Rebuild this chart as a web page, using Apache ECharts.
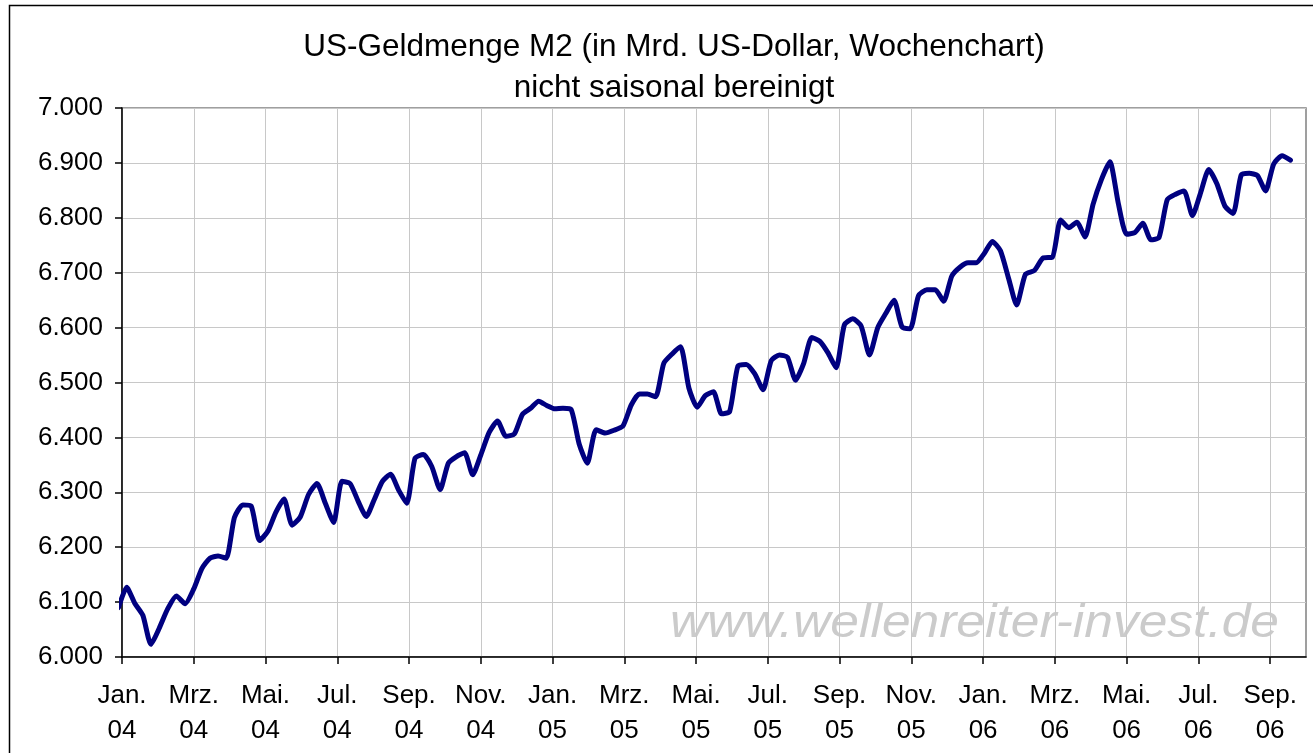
<!DOCTYPE html>
<html>
<head>
<meta charset="utf-8">
<script src="https://cdn.jsdelivr.net/npm/echarts@6.0.0/dist/echarts.min.js"></script>
<style>html,body{margin:0;padding:0;background:#fff}</style>
</head>
<body>
<div id="main" style="width:1313px;height:753px;"></div>
<script type="text/javascript">
    // erste Woche 29.12.2003, danach wöchentlich
    var startDate = [2003, 11, 29];
    var m2Values = [
        6090, 6127, 6098, 6076, 6023, 6052, 6088, 6111, 6097, 6124,
        6161, 6180, 6184, 6180, 6254, 6277, 6275, 6212, 6229, 6264,
        6288, 6240, 6255, 6296, 6316, 6280, 6245, 6320, 6316, 6284,
        6256, 6287, 6320, 6333, 6304, 6280, 6362, 6369, 6347, 6305,
        6353, 6365, 6372, 6332, 6368, 6409, 6430, 6402, 6406, 6442,
        6453, 6466, 6458, 6452, 6453, 6451, 6388, 6353, 6414, 6408,
        6413, 6421, 6459, 6479, 6479, 6474, 6535, 6552, 6565, 6490,
        6455, 6476, 6483, 6443, 6447, 6530, 6533, 6516, 6487, 6540,
        6550, 6546, 6504, 6535, 6582, 6575, 6554, 6527, 6605, 6616,
        6603, 6550, 6600, 6626, 6650, 6601, 6598, 6658, 6669, 6669,
        6648, 6694, 6710, 6718, 6718, 6735, 6757, 6740, 6690, 6641,
        6697, 6704, 6727, 6728, 6796, 6782, 6792, 6765, 6825, 6870,
        6902, 6827, 6770, 6773, 6790, 6760, 6764, 6833, 6843, 6849,
        6804, 6846, 6888, 6862, 6821, 6808, 6878, 6881, 6877, 6849,
        6898, 6913, 6905
    ];
    var xTickLabels = ['Jan.\n04', 'Mrz.\n04', 'Mai.\n04', 'Jul.\n04', 'Sep.\n04', 'Nov.\n04',
        'Jan.\n05', 'Mrz.\n05', 'Mai.\n05', 'Jul.\n05', 'Sep.\n05', 'Nov.\n05',
        'Jan.\n06', 'Mrz.\n06', 'Mai.\n06', 'Jul.\n06', 'Sep.\n06'];
    var yTickLabels = ['6.000', '6.100', '6.200', '6.300', '6.400', '6.500',
        '6.600', '6.700', '6.800', '6.900', '7.000'];

    var font = 'Liberation Sans, Arial, sans-serif';

    // Datum der Woche i -> Monate seit Jan. 2004
    function monthPos(i) {
        var d = new Date(startDate[0], startDate[1], startDate[2] + 7 * i);
        var days = new Date(d.getFullYear(), d.getMonth() + 1, 0).getDate();
        return (d.getFullYear() - 2004) * 12 + d.getMonth() + (d.getDate() - 1) / days;
    }
    var seriesData = m2Values.map(function (v, i) { return [monthPos(i), v]; });
    var xTicks = xTickLabels.map(function (s, k) { return 2 * k; });

    var myChart = echarts.init(document.getElementById('main'));
    option = {
        animation: false,
        backgroundColor: '#fff',
        grid: {
            left: 122, top: 108, width: 1184, height: 549,
            show: true, borderColor: '#808080', borderWidth: 1.5
        },
        xAxis: {
            type: 'value', min: 0, max: 33, interval: 2,
            axisLine: { lineStyle: { color: '#000', width: 1.5 } },
            axisTick: { length: 7, customValues: xTicks, lineStyle: { color: '#000', width: 1.5 } },
            axisLabel: {
                customValues: xTicks,
                formatter: function (v) { return xTickLabels[v / 2] || ''; },
                fontSize: 26, lineHeight: 35, margin: 21, color: '#000', fontFamily: font
            },
            splitLine: { show: true, lineStyle: { color: '#c8c8c8', width: 1 } }
        },
        yAxis: {
            type: 'value', min: 6000, max: 7000, interval: 100,
            axisLine: { show: true, lineStyle: { color: '#000', width: 1.5 } },
            axisTick: { show: true, length: 7, lineStyle: { color: '#000', width: 1.5 } },
            axisLabel: {
                formatter: function (v) { return yTickLabels[Math.round((v - 6000) / 100)]; },
                fontSize: 26, margin: 19, color: '#000', fontFamily: font
            },
            splitLine: { show: true, lineStyle: { color: '#c8c8c8', width: 1 } }
        },
        graphic: [
            {
                type: 'rect', silent: true,
                shape: { x: 9.5, y: 5.5, width: 1400, height: 800 },
                style: { fill: 'none', stroke: '#000', lineWidth: 1.5 }
            },
            {
                type: 'text', x: 674, y: 47, silent: true,
                style: {
                    text: 'US-Geldmenge M2 (in Mrd. US-Dollar, Wochenchart)',
                    fontSize: 31.5, fontFamily: font, fill: '#000',
                    textAlign: 'center', textVerticalAlign: 'middle'
                }
            },
            {
                type: 'text', x: 674, y: 88, silent: true,
                style: {
                    text: 'nicht saisonal bereinigt',
                    fontSize: 31.5, fontFamily: font, fill: '#000',
                    textAlign: 'center', textVerticalAlign: 'middle'
                }
            },
            {
                // Wasserzeichen, breiter gezogen wie im Original
                type: 'text', x: 1279, y: 624, scaleX: 1.12, silent: true, z: -1,
                style: {
                    text: 'www.wellenreiter-invest.de',
                    fontSize: 46, fontStyle: 'italic', fontFamily: font, fill: '#cbcbcb',
                    textAlign: 'right', textVerticalAlign: 'middle'
                }
            }
        ],
        series: [
            {
                name: 'M2',
                type: 'line',
                data: seriesData,
                symbol: 'none',
                smooth: 0.2,
                clip: true,
                lineStyle: { color: '#000080', width: 5, join: 'round', cap: 'round' }
            }
        ]
    };
    myChart.setOption(option);
</script>
</body>
</html>
